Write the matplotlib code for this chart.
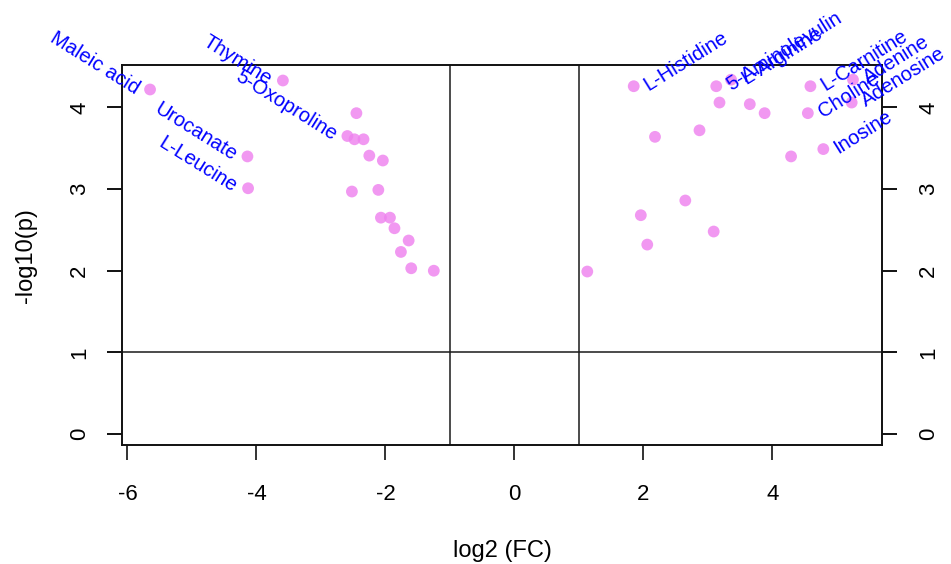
import matplotlib
matplotlib.use("Agg")
import matplotlib.pyplot as plt

plt.rcParams['font.family'] = ['Liberation Sans', 'DejaVu Sans']

# labelled metabolites (left side = down, right side = up)
left_names = ["Maleic acid", "Thymine", "5-Oxoproline", "Urocanate", "L-Leucine"]
left_fc = [-5.65, -3.59, -2.59, -4.14, -4.13]
left_p = [4.22, 4.33, 3.65, 3.40, 3.01]

right_names = ["L-Histidine", "5-Aminolevulin", "L-Arginine", "L-Carnitine",
               "Adenine", "Choline", "Adenosine", "Inosine"]
right_fc = [1.85, 3.13, 3.36, 4.59, 5.25, 4.55, 5.23, 4.79]
right_p = [4.26, 4.26, 4.34, 4.26, 4.34, 3.93, 4.06, 3.49]

# unlabelled significant metabolites
other_fc = [-2.45, -2.48, -2.34, -2.25, -2.04, -2.52, -2.11, -2.07, -1.93,
            -1.86, -1.64, -1.76, -1.60, -1.25,
            3.18, 3.65, 3.88, 2.18, 2.87, 4.29, 2.65, 1.96, 3.09, 2.06, 1.13]
other_p = [3.93, 3.61, 3.61, 3.41, 3.35, 2.97, 2.99, 2.65, 2.65,
           2.52, 2.37, 2.23, 2.03, 2.00,
           4.06, 4.04, 3.93, 3.64, 3.72, 3.40, 2.86, 2.68, 2.48, 2.32, 1.99]

x_ticks = [-6, -4, -2, 0, 2, 4]
y_ticks = [0, 1, 2, 3, 4]
fc_cut = [-1, 1]
p_cut = 1

fig = plt.figure(figsize=(9.51, 5.64), dpi=100)
ax = fig.add_axes([122/951, 1-445/564, (882-122)/951, (445-65)/564])

pt_color = '#EE82EE'
ax.scatter(other_fc + left_fc + right_fc, other_p + left_p + right_p,
           s=72, color=pt_color, alpha=0.82, edgecolors='none', zorder=3)

for v in fc_cut:
    ax.axvline(v, color='#1a1a1a', lw=1.1, zorder=2)
ax.axhline(p_cut, color='#1a1a1a', lw=1.1, zorder=2)

ang = 32
for n, x, y in zip(left_names, left_fc, left_p):
    ax.annotate(n, (x, y), xytext=(-9, 0), textcoords='offset points',
                ha='right', va='center', rotation=-ang, rotation_mode='anchor',
                color='#0000FF', fontsize=14.5, zorder=4)
for n, x, y in zip(right_names, right_fc, right_p):
    ax.annotate(n, (x, y), xytext=(8.5, 0), textcoords='offset points',
                ha='left', va='center', rotation=ang, rotation_mode='anchor',
                color='#0000FF', fontsize=14.5, zorder=4)

xlim = (-6.085, 5.70)
ylim = (-0.135, 4.52)
ax.set_xlim(*xlim)
ax.set_ylim(*ylim)
ax.set_xticks(x_ticks)
ax.set_xticklabels([str(t) for t in x_ticks])
ax.set_yticks(y_ticks)
ax.set_yticklabels([str(t) for t in y_ticks], rotation=90, va='center')

for s in ax.spines.values():
    s.set_linewidth(1.4)
    s.set_color('#111111')

ax.tick_params(axis='x', length=11, width=1.2, pad=17, labelsize=16, color='#111111')
ax.tick_params(axis='y', length=11, width=1.4, pad=12, labelsize=16, color='#111111')

# right-hand axis with its own padding
ax2 = ax.twinx()
ax2.set_ylim(*ylim)
ax2.set_yticks(y_ticks)
ax2.set_yticklabels([str(t) for t in y_ticks], rotation=90, va='center')
ax2.tick_params(axis='y', length=11, width=1.4, pad=15, labelsize=16, color='#111111')
for s in ax2.spines.values():
    s.set_visible(False)

fig.text(26/951, 1-256/564, '-log10(p)', rotation=90, ha='center', va='center', fontsize=17)
fig.text(502/951, 1-551/564, 'log2 (FC)', ha='center', va='center', fontsize=17)

fig.savefig('out.png', dpi=100)
